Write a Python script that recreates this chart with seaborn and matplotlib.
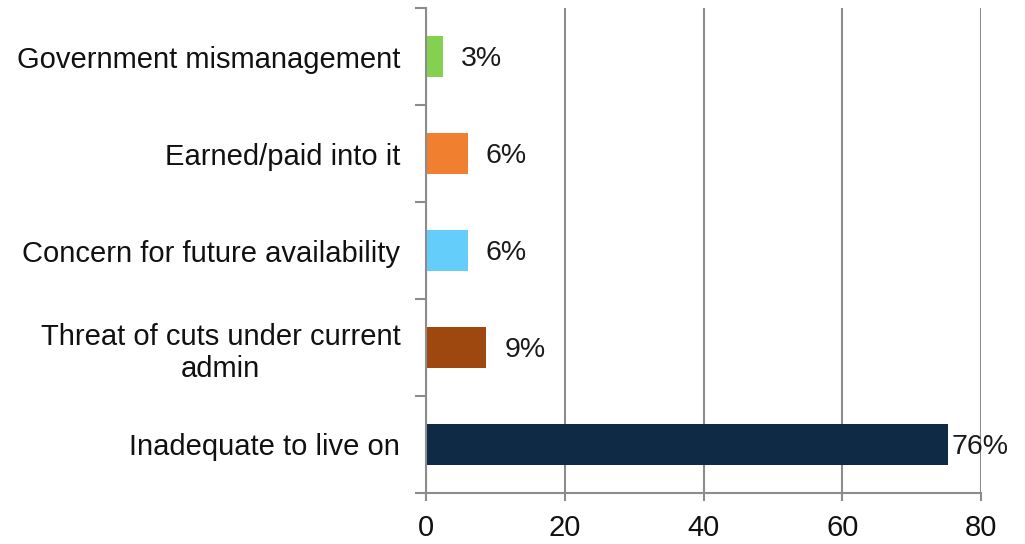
import matplotlib
matplotlib.use("Agg")
import matplotlib.pyplot as plt
import seaborn as sns
import pandas as pd
import numpy as np

# Chart data (top to bottom)
categories = [
    "Government mismanagement",
    "Earned/paid into it",
    "Concern for future availability",
    "Threat of cuts under current\nadmin",
    "Inadequate to live on",
]
values = [2.4, 6.0, 6.0, 8.7, 75.3]
value_labels = ["3%", "6%", "6%", "9%", "76%"]
bar_colors = ["#84D151", "#F07F30", "#65CDFA", "#9E470E", "#0E2A45"]
x_ticks = [0, 20, 40, 60, 80]

df = pd.DataFrame({"category": categories, "value": values})

sns.set_style("white")
plt.rcParams["font.family"] = ["Liberation Sans", "DejaVu Sans"]

fig = plt.figure(figsize=(10.25, 5.44), dpi=100)
ax = fig.add_axes([0.4156, 0.0938, 0.5415, 0.8912])

sns.barplot(data=df, x="value", y="category", hue="category",
            palette=bar_colors, legend=False, width=0.42, saturation=1,
            linewidth=0, ax=ax)

# value labels
for i, (patch, lab) in enumerate(zip(ax.patches, value_labels)):
    pad = 2 if i == len(value_labels) - 1 else 13
    ax.annotate(lab, (patch.get_width(), patch.get_y() + patch.get_height() / 2),
                xytext=(pad, -2), textcoords="offset points",
                ha="left", va="center", fontsize=20.5, color="#1a1a1a")

ax.set_xlim(0, 80)
ax.set_ylim(len(categories) - 0.5, -0.5)
ax.set_xticks(x_ticks)
ax.set_xlabel("")
ax.set_ylabel("")
ax.xaxis.grid(True, color="#8c8c8c", linewidth=1.5)
ax.set_axisbelow(True)

# category ticks sit between bars
ax.set_yticks(range(len(categories)))
ax.set_yticklabels(categories, ha="right", multialignment="center")
ax.set_yticks(np.arange(-0.5, len(categories), 1), minor=True)
ax.tick_params(axis="y", which="major", left=True, length=0, pad=18.5,
               labelsize=21, labelcolor="#111111")
ax.tick_params(axis="y", which="minor", left=True, length=8, width=1.5,
               color="#8c8c8c", direction="out")
ax.tick_params(axis="x", bottom=True, length=6, width=1.5, color="#8c8c8c",
               labelsize=21, labelcolor="#111111", pad=9, direction="out")

for s in ["top", "right"]:
    ax.spines[s].set_visible(False)
for s in ["left", "bottom"]:
    ax.spines[s].set_color("#8c8c8c")
    ax.spines[s].set_linewidth(1.5)

fig.savefig("out.png", dpi=100)
